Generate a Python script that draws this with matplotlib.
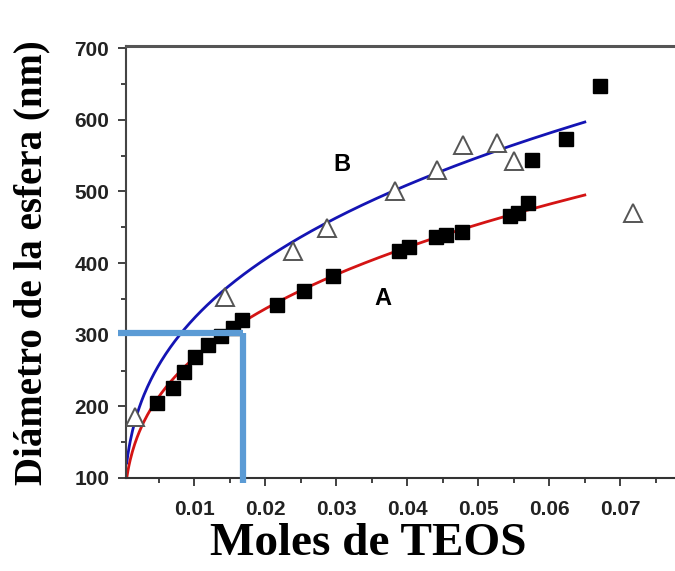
import matplotlib
matplotlib.use('Agg')
import matplotlib.pyplot as plt
import numpy as np
from matplotlib.ticker import MultipleLocator, FixedLocator

# series A (filled squares)
a_x = [0.0048, 0.0070, 0.0085, 0.0101, 0.0120, 0.0138, 0.0154, 0.0168, 0.0216, 0.0254,
       0.0296, 0.0389, 0.0403, 0.0441, 0.0455, 0.0477, 0.0545, 0.0556, 0.0570, 0.0575,
       0.0623, 0.0672]
a_y = [205, 226, 248, 269, 286, 298, 309, 320, 341, 361,
       382, 417, 422, 436, 439, 443, 466, 470, 484, 544,
       573, 647]

# series B (open triangles)
b_x = [0.0017, 0.0144, 0.0239, 0.0287, 0.0383, 0.0442, 0.0479, 0.0527, 0.0551, 0.0718]
b_y = [185, 352, 417, 449, 500, 530, 565, 567, 542, 470]

# power-law fits: y = c * x**p
fit_a = (1215, 0.3285)
fit_b = (1463, 0.328)
fit_range = (0.0005, 0.065)

# highlighted reading (blue guide lines)
guide_x = 0.0169
guide_y = 302

plt.rcParams['font.family'] = ['Liberation Sans', 'DejaVu Sans']

fig = plt.figure(figsize=(6.75, 5.71), dpi=100)
ax = fig.add_axes([0.1867, 0.1629, 0.8133, 0.7565])

xf = np.linspace(fit_range[0], fit_range[1], 400)
ax.plot(xf, fit_b[0] * xf ** fit_b[1], color='#1414b4', lw=2.0, zorder=2)
ax.plot(xf, fit_a[0] * xf ** fit_a[1], color='#d41414', lw=2.0, zorder=2)

ax.plot(a_x, a_y, 's', color='black', ms=9.5, zorder=3)
ax.plot(b_x, b_y, '^', mfc='white', mec='#555555', mew=1.4, ms=13, zorder=3)

ax.text(0.0308, 537, 'B', fontsize=17, fontweight='bold', ha='center', va='center')
ax.text(0.0366, 351, 'A', fontsize=17, fontweight='bold', ha='center', va='center')

# guide lines
ax.plot([-0.0007, guide_x], [guide_y, guide_y], color='#5b9bd5', lw=4.5,
        solid_capstyle='butt', clip_on=False, zorder=4)
ax.plot([guide_x, guide_x], [guide_y, 93], color='#5b9bd5', lw=4.5,
        solid_capstyle='butt', clip_on=False, zorder=4)

ax.set_xlim(0.0004, 0.0777)
ax.set_ylim(100, 703)

ax.xaxis.set_major_locator(FixedLocator([0.01, 0.02, 0.03, 0.04, 0.05, 0.06, 0.07]))
ax.xaxis.set_minor_locator(FixedLocator([0.005, 0.015, 0.025, 0.035, 0.045, 0.055, 0.065, 0.075]))
ax.set_xticklabels(['0.01', '0.02', '0.03', '0.04', '0.05', '0.06', '0.07'])
ax.yaxis.set_major_locator(MultipleLocator(100))
ax.yaxis.set_minor_locator(MultipleLocator(50))

ax.tick_params(which='major', direction='out', length=6, width=1.3, color='#333333',
               labelsize=15, labelcolor='#222222', pad=6)
ax.tick_params(axis='x', which='major', pad=10)
ax.tick_params(which='minor', direction='out', length=3.5, width=1.3, color='#333333')
for lab in ax.get_xticklabels() + ax.get_yticklabels():
    lab.set_fontweight('bold')

ax.spines['right'].set_visible(False)
ax.spines['top'].set_color('#555555')
ax.spines['top'].set_linewidth(2.2)
ax.spines['left'].set_color('#444444')
ax.spines['left'].set_linewidth(1.5)
ax.spines['bottom'].set_color('#333333')
ax.spines['bottom'].set_linewidth(1.5)

fig.text(0.047, 0.54, 'Diámetro de la esfera (nm)', rotation=90, ha='center', va='center',
         fontsize=28, fontweight='bold', family=['Liberation Serif', 'DejaVu Serif'])
fig.text(0.545, 0.047, 'Moles de TEOS', ha='center', va='center',
         fontsize=34, fontweight='bold', family=['Liberation Serif', 'DejaVu Serif'])

fig.savefig('out.png', dpi=100)
